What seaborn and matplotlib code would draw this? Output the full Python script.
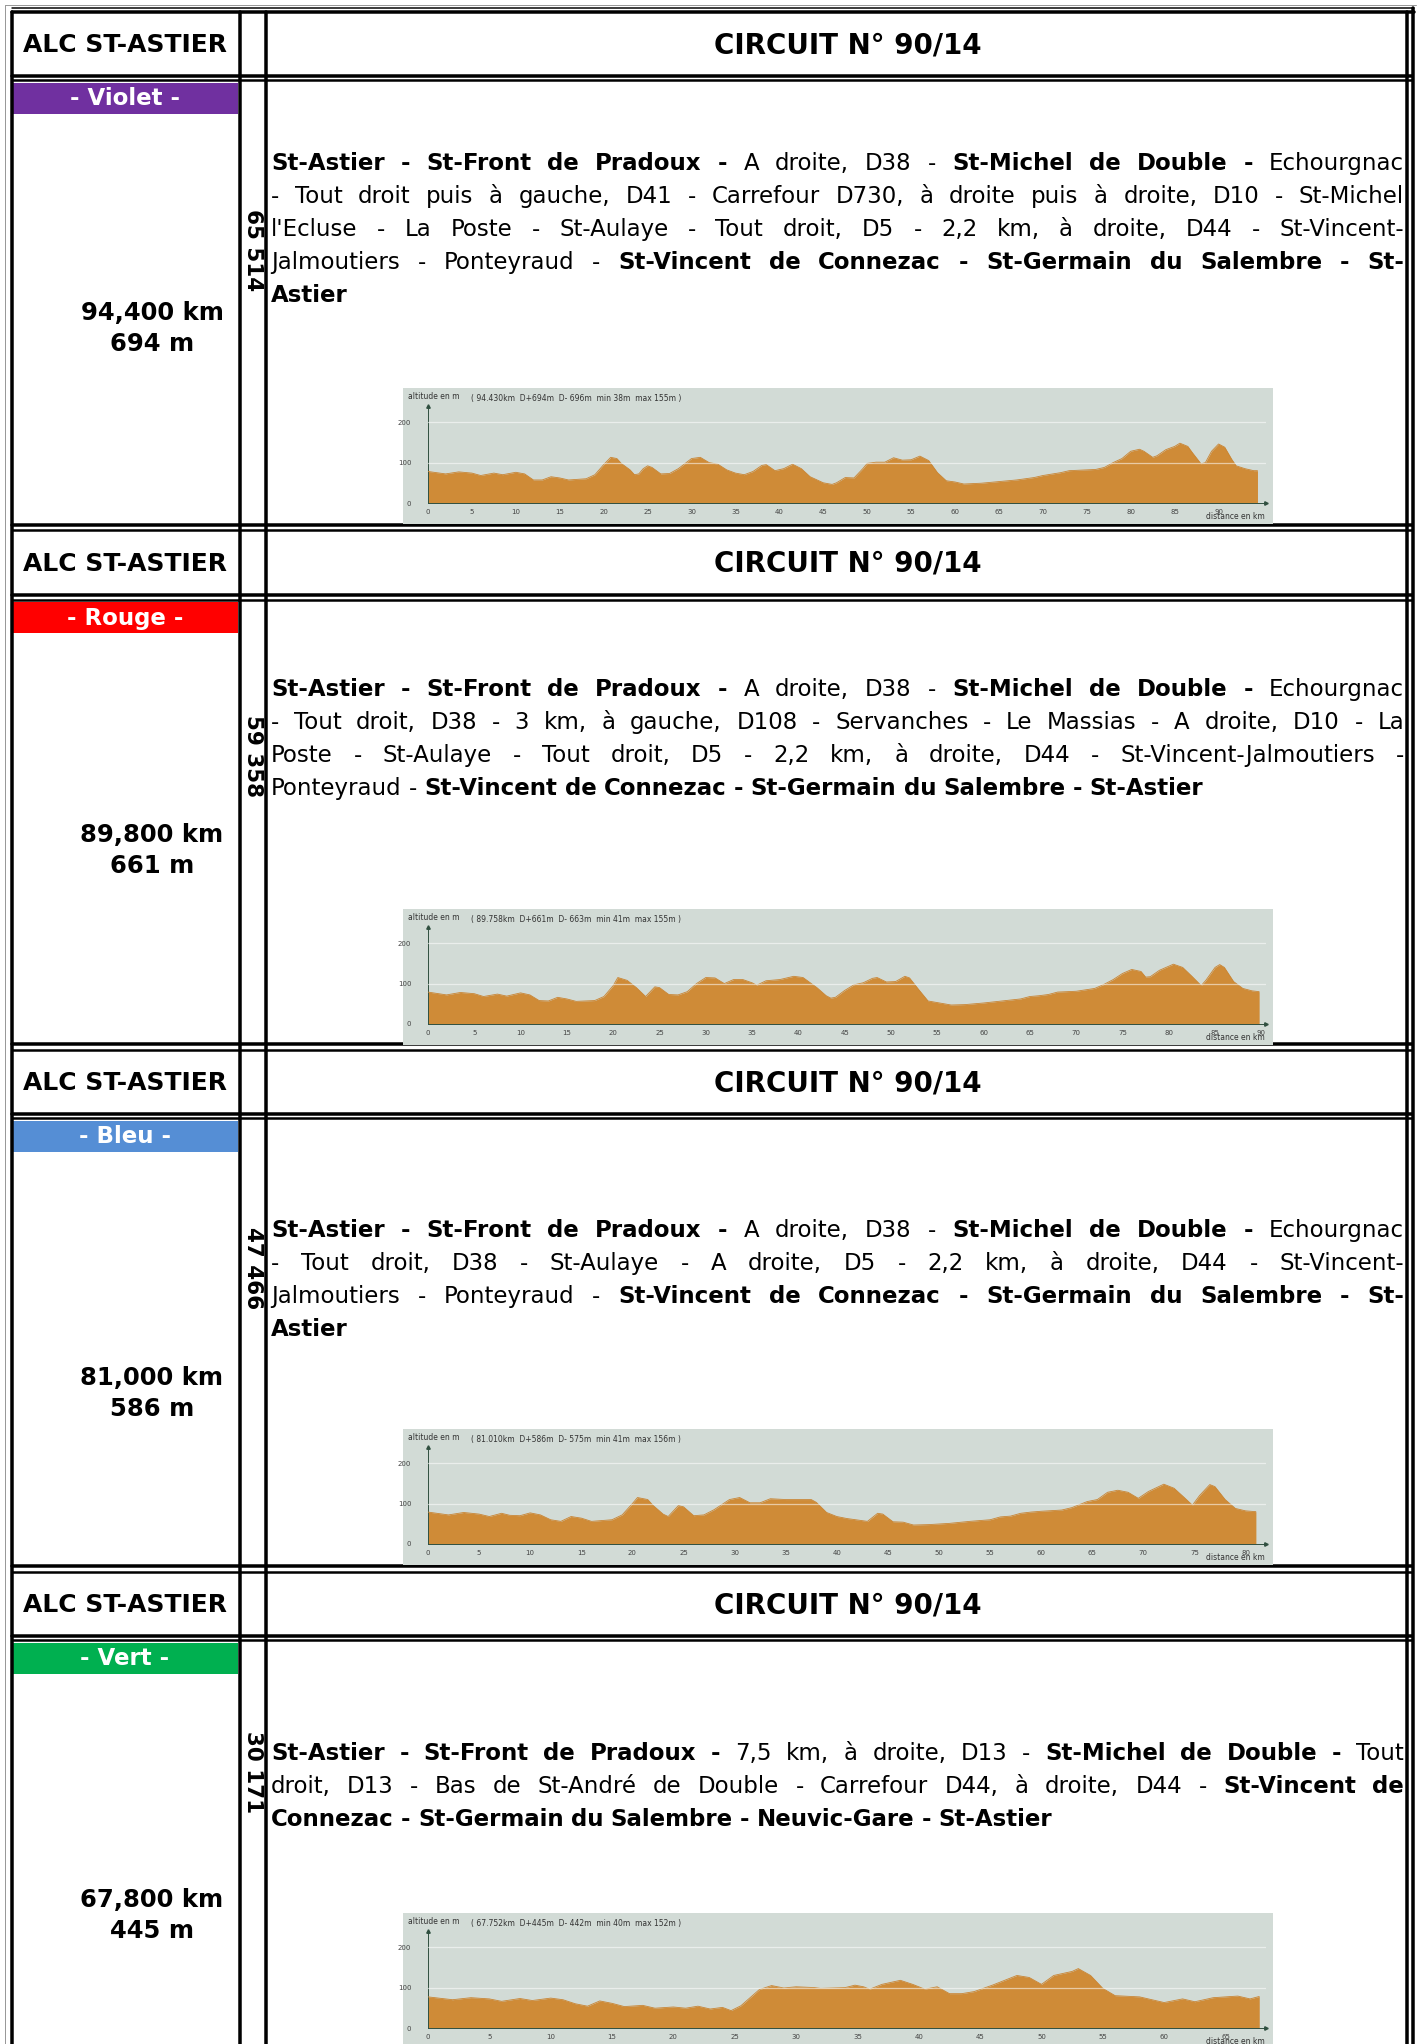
import numpy as np
import pandas as pd
import matplotlib
matplotlib.use("Agg")
import matplotlib.pyplot as plt
import seaborn as sns

sns.set_theme(style="white")
plt.rcParams['font.family'] = ['DejaVu Sans']
plt.rcParams['text.color'] = 'black'

W, H = 1421, 2044

club = "ALC ST-ASTIER"
title = "CIRCUIT N° 90/14"
circuit_names = ["- Violet -", "- Rouge -", "- Bleu -", "- Vert -"]
circuit_colors = ["#7030A0", "#FF0000", "#558ED5", "#00B050"]
distances_txt = ["94,400 km", "89,800 km", "81,000 km", "67,800 km"]
climbs_txt = ["694 m", "661 m", "586 m", "445 m"]
codes = ["65 514", "59 358", "47 466", "30 171"]
profile_stats = [
    "( 94.430km  D+694m  D- 696m  min 38m  max 155m )",
    "( 89.758km  D+661m  D- 663m  min 41m  max 155m )",
    "( 81.010km  D+586m  D- 575m  min 41m  max 156m )",
    "( 67.752km  D+445m  D- 442m  min 40m  max 152m )",
]

# texte des itinéraires : (texte, gras)
start_line = [("St-Astier - St-Front de Pradoux -", True), (" A droite, D38 - ", False),
              ("St-Michel de Double -", True), (" Echourgnac", False)]
route_violet = [
    start_line,
    [("- Tout droit puis à gauche, D41 - Carrefour D730, à droite puis à droite, D10 - St-Michel", False)],
    [("l'Ecluse - La Poste - St-Aulaye - Tout droit, D5 - 2,2 km, à droite, D44 - St-Vincent-", False)],
    [("Jalmoutiers - Ponteyraud - ", False), ("St-Vincent de Connezac - St-Germain du Salembre - St-", True)],
    [("Astier", True)],
]
route_rouge = [
    start_line,
    [("- Tout droit, D38 - 3 km, à gauche, D108 - Servanches - Le Massias - A droite, D10 - La", False)],
    [("Poste - St-Aulaye - Tout droit, D5 - 2,2 km, à droite, D44 - St-Vincent-Jalmoutiers -", False)],
    [("Ponteyraud - ", False), ("St-Vincent de Connezac - St-Germain du Salembre - St-Astier", True)],
]
route_bleu = [
    start_line,
    [("- Tout droit, D38 - St-Aulaye - A droite, D5 - 2,2 km, à droite, D44 - St-Vincent-", False)],
    [("Jalmoutiers - Ponteyraud - ", False), ("St-Vincent de Connezac - St-Germain du Salembre - St-", True)],
    [("Astier", True)],
]
route_vert = [
    [("St-Astier - St-Front de Pradoux -", True), (" 7,5 km, à droite, D13 - ", False),
     ("St-Michel de Double -", True), (" Tout", False)],
    [("droit, D13 - Bas de St-André de Double - Carrefour D44, à droite, D44 - ", False),
     ("St-Vincent de", True)],
    [("Connezac - St-Germain du Salembre - Neuvic-Gare - St-Astier", True)],
]
routes = [route_violet, route_rouge, route_bleu, route_vert]

violet_km = [0, 2, 3.5, 5, 6, 7.5, 8.5, 10, 11, 12, 13, 14, 15, 16, 18, 19, 20, 20.8, 21.5, 22, 23, 23.5,
             24, 24.5, 25, 25.5, 26.5, 27.5, 28.5, 30, 31, 32, 33, 34, 35, 36, 37, 38, 38.5, 39.5, 40.5,
             41.5, 42.5, 43.5, 45, 46, 46.5, 47.5, 48.5, 49.5, 50, 51, 52, 53, 54, 55, 56, 57, 58, 59, 60,
             61, 63, 65, 67, 69, 70, 72, 73, 76, 77, 78, 79, 80, 81, 81.5, 82.5, 83, 84, 85, 85.6, 86.5,
             87, 88, 88.5, 89.2, 90, 90.7, 91.5, 92, 93, 94, 94.43]
violet_alt = [78, 72, 77, 74, 68, 74, 70, 76, 72, 57, 57, 65, 62, 57, 60, 70, 95, 113, 110, 98, 82, 70,
              72, 85, 92, 88, 72, 73, 85, 110, 113, 100, 96, 82, 74, 70, 78, 93, 95, 80, 85,
              96, 85, 65, 50, 46, 50, 63, 62, 85, 98, 101, 101, 112, 106, 107, 116, 105, 75, 55, 52,
              47, 49, 53, 57, 63, 68, 75, 80, 83, 88, 100, 110, 128, 133, 128, 113, 117, 132, 140, 148, 140,
              125, 97, 100, 128, 146, 138, 108, 92, 85, 80, 80]

rouge_km = [0, 2, 3.5, 5, 6, 7.5, 8.5, 10, 11, 12, 13, 14, 15, 16, 18, 19, 20, 20.5, 21.5, 22.5, 23.5,
            24.5, 25, 26, 27, 28, 29, 30, 31, 32, 33, 34, 35, 35.5, 36.5, 38, 39.5, 40.5, 42, 43, 43.5,
            44, 45, 46, 47, 48, 48.5, 49.5, 50.5, 51.5, 52, 53, 54, 55, 56.5, 58, 60, 62, 64, 65, 66, 67,
            68, 70, 72, 73, 74, 75, 76, 77, 77.5, 78, 79, 80.5, 81.5, 82.5, 83.5, 84, 85, 85.5, 86, 87,
            88, 89, 89.76]
rouge_alt = [79, 72, 78, 75, 68, 74, 69, 77, 72, 58, 57, 66, 62, 56, 58, 68, 95, 115, 108, 90, 68,
             92, 90, 73, 72, 80, 100, 115, 114, 100, 110, 110, 102, 96, 107, 110, 118, 115, 90, 70, 64,
             66, 83, 97, 102, 113, 115, 104, 105, 118, 114, 85, 57, 53, 47, 48, 52, 57, 62, 68, 70, 73,
             79, 81, 88, 98, 110, 125, 135, 130, 116, 117, 133, 148, 140, 118, 95, 108, 140, 147, 140, 105,
             88, 82, 80]

bleu_km = [0, 2, 3.5, 5, 6, 7.2, 8, 9, 10, 11, 12, 13, 14, 15, 16, 18, 19, 20, 20.5, 21.5, 22, 23, 23.5,
           24.5, 25, 26, 27, 28, 29.5, 30.5, 31.5, 32.5, 33.5, 35, 37.5, 38, 39, 40, 41, 43, 44, 44.5,
           45.5, 46.5, 47.5, 49, 51, 53, 55, 56, 57, 58, 59, 60, 62, 63, 64.5, 65.5, 66.5, 67.5, 68.5,
           69.5, 70.5, 72, 73, 74, 74.8, 75.5, 76.5, 77, 78, 79, 80, 81.01]
bleu_alt = [79, 72, 78, 74, 68, 76, 71, 70, 77, 72, 60, 56, 68, 64, 56, 60, 72, 100, 115, 110, 96, 74, 68,
            95, 92, 70, 72, 85, 110, 115, 102, 102, 112, 110, 110, 103, 78, 68, 63, 56, 76, 74,
            55, 54, 47, 48, 51, 56, 60, 67, 69, 76, 79, 81, 84, 90, 105, 110, 128, 133, 128,
            113, 130, 148, 138, 115, 96, 120, 147, 142, 110, 88, 82, 80]

vert_km = [0, 2, 3.5, 5, 6, 7.5, 8.5, 10, 11, 12, 13, 14, 15, 16, 17.5, 18.5, 20, 21, 22, 23, 24, 24.7,
           25.5, 27, 28, 29, 30, 31.5, 32, 34, 34.8, 35.5, 36, 37, 38.5, 39.5, 40.5, 41.5, 42.5, 43.5,
           44.5, 46, 47, 48, 49, 50, 51, 52.5, 53, 54, 55, 56, 58, 60, 61.5, 62.5, 64, 66, 67, 67.75]
vert_alt = [77, 70, 75, 72, 66, 73, 68, 74, 70, 60, 54, 67, 61, 53, 56, 49, 52, 49, 54, 47, 51, 43,
            55, 95, 105, 99, 102, 100, 98, 100, 106, 102, 96, 108, 118, 108, 96, 102, 85, 85,
            90, 106, 118, 130, 125, 108, 130, 140, 147, 130, 98, 80, 77, 63, 72, 65, 75, 79, 72, 78]

profiles = [(violet_km, violet_alt), (rouge_km, rouge_alt), (bleu_km, bleu_alt), (vert_km, vert_alt)]
xmax_km = [95.4, 90.5, 82.0, 68.3]
xtick_max = [90, 90, 80, 65]

# positions (pixels depuis le haut)
sep_y = [None, 528, 1047, 1569]       # double trait entre les blocs
head_top = [12, 530.5, 1050, 1572]
head_bot = [76, 595.5, 1114, 1636]
text_y = [170, 696, 1237, 1760]
km_y = [313, 835, 1378, 1900]
code_y = [250, 756, 1268, 1772]
panel_top = [388, 909, 1429, 1913]

fig = plt.figure(figsize=(W / 100, H / 100), dpi=100)
page = fig.add_axes([0, 0, 1, 1])
page.set_xlim(0, W)
page.set_ylim(H, 0)
page.axis("off")
renderer = fig.canvas.get_renderer()

px = 100 / 72.0
X_L, X_C1, X_C2, X_R = 11.5, 239.5, 266, 1406.5

# cadre extérieur
page.plot([5, 5], [5, H], color="#999999", lw=1 / px)
page.plot([5, 1416], [5, 5], color="#999999", lw=1 / px)
page.plot([X_L, X_L], [12, H], color="black", lw=3.5 / px)
page.plot([X_R, X_R], [12, H], color="black", lw=3.5 / px)
page.plot([1412.5, 1412.5], [8, H], color="black", lw=3.5 / px)
page.plot([X_L, 1414], [12, 12], color="black", lw=3.5 / px)
page.plot([X_L, 1414], [8, 8], color="black", lw=1.5 / px)
page.plot([X_C1, X_C1], [12, H], color="black", lw=3.5 / px)
page.plot([X_C2, X_C2], [12, H], color="black", lw=3.5 / px)


def draw_para(lines, y0, x0=271, x1=1404, step=33, size=16.5):
    for i, segs in enumerate(lines):
        y = y0 + i * step
        words = []
        for txt, bold in segs:
            for w in txt.split():
                words.append((w, bold))
        arts = [page.text(0, y, w, fontsize=size, fontweight="bold" if b else "normal",
                          va="baseline", ha="left", color="black") for w, b in words]
        widths = [a.get_window_extent(renderer).width for a in arts]
        space = size * 0.32 * px
        if i == len(lines) - 1 or len(words) < 2:
            gap = space
        else:
            gap = max((x1 - x0 - sum(widths)) / (len(words) - 1), space * 0.6)
        x = x0
        for a, w in zip(arts, widths):
            a.set_x(x)
            x += w + gap


for k in range(4):
    # traits horizontaux
    if sep_y[k] is not None:
        page.plot([X_L, 1412], [sep_y[k] - 2.5, sep_y[k] - 2.5], color="black", lw=3.5 / px)
        page.plot([X_L, 1412], [head_top[k], head_top[k]], color="black", lw=2.5 / px)
    page.plot([X_L, 1412], [head_bot[k], head_bot[k]], color="black", lw=3.5 / px)
    page.plot([X_L, 1412], [head_bot[k] + 4.5, head_bot[k] + 4.5], color="black", lw=2.5 / px)

    hc = (head_top[k] + head_bot[k]) / 2 + 1
    page.text(125, hc, club, fontsize=18, fontweight="bold", ha="center", va="center", color="black")
    page.text(848, hc, title, fontsize=20, fontweight="bold", ha="center", va="center", color="black")

    # bandeau de couleur
    b0 = head_bot[k] + 7
    page.fill_between([13, 238], b0, b0 + 31, color=circuit_colors[k], lw=0)
    page.text(125, b0 + 15.5, circuit_names[k], fontsize=16.5, fontweight="bold",
              color="white", ha="center", va="center")

    page.text(152, km_y[k], distances_txt[k], fontsize=17.5, fontweight="bold", ha="center",
              va="center", color="black")
    page.text(152, km_y[k] + 31, climbs_txt[k], fontsize=17.5, fontweight="bold", ha="center",
              va="center", color="black")
    page.text(253, code_y[k], codes[k], fontsize=15.5, fontweight="bold", rotation=270,
              ha="center", va="center", color="black")

    draw_para(routes[k], text_y[k])

    # profil
    p0 = panel_top[k]
    panel = fig.add_axes([403 / W, 1 - (p0 + 136) / H, 870 / W, 136 / H])
    panel.set_facecolor("#D2DBD6")
    panel.set_xticks([])
    panel.set_yticks([])
    for s in panel.spines.values():
        s.set_visible(False)
    panel.text(5 / 870, 1 - 4 / 136, "altitude en m", fontsize=5.5, color="#333333",
               ha="left", va="top", transform=panel.transAxes)
    panel.text(68 / 870, 1 - 6 / 136, profile_stats[k], fontsize=5.5, color="#333333",
               ha="left", va="top", transform=panel.transAxes)
    panel.text(1 - 8 / 870, 3 / 136, "distance en km", fontsize=5.5, color="#333333",
               ha="right", va="bottom", transform=panel.transAxes)

    zero_y = p0 + 115
    ax = fig.add_axes([428 / W, 1 - zero_y / H, (1266 - 428) / W, 97 / H])
    ax.patch.set_alpha(0)
    km, alt = profiles[k]
    df = pd.DataFrame({"km": km, "alt": alt})
    ax.fill_between(df["km"], df["alt"], color="#CF8B37", lw=0, zorder=2)
    sns.lineplot(data=df, x="km", y="alt", ax=ax, color="#C98432", lw=0.6, zorder=3)
    for g in (100, 200):
        ax.axhline(g, color="white", alpha=0.55, lw=0.9, zorder=4)
    ax.set_xlim(0, xmax_km[k])
    ax.set_ylim(0, 240)
    ax.set_xticks(np.arange(0, xtick_max[k] + 1, 5))
    ax.set_yticks([0, 100, 200])
    ax.tick_params(axis="both", labelsize=5, colors="#444444", length=2, width=0.5, pad=2)
    ax.tick_params(axis="y", length=0, pad=12)
    ax.set_xlabel("")
    ax.set_ylabel("")
    for side in ("top", "right"):
        ax.spines[side].set_visible(False)
    for side in ("left", "bottom"):
        ax.spines[side].set_color("#2F4F3F")
        ax.spines[side].set_linewidth(0.7)
    ax.plot(1, 0, ">", color="#2F4F3F", ms=2.5, transform=ax.transAxes, clip_on=False)
    ax.plot(0, 1, "^", color="#2F4F3F", ms=2.5, transform=ax.transAxes, clip_on=False)

fig.savefig("out.png", dpi=100)
